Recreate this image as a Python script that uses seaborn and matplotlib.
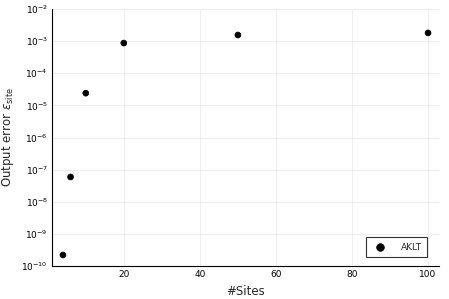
import matplotlib
matplotlib.use("Agg")
import matplotlib.pyplot as plt
import seaborn as sns
import pandas as pd
import numpy as np

sites = [4, 6, 10, 20, 50, 100]
errors = [2.2e-10, 5.9e-8, 2.4e-5, 8.7e-4, 1.55e-3, 1.8e-3]
series = ["AKLT"] * len(sites)
df = pd.DataFrame({"#Sites": sites, "err": errors, "series": series})

sns.set_style("white")
plt.rcParams['font.family'] = ['DejaVu Sans']
fig = plt.figure(figsize=(4.49, 2.99), dpi=100)
ax = fig.add_axes([52/449, 33/299, 387/449, 257/299])
sns.scatterplot(data=df, x="#Sites", y="err", hue="series", palette=["black"],
                s=18, edgecolor="black", linewidth=0.5, ax=ax, zorder=3)
ax.set_yscale("log")
ax.set_ylim(1e-10, 1e-2)
ax.set_xlim(1.12, 102.88)
ax.set_xticks([20, 40, 60, 80, 100])
ax.set_yticks([10.0**k for k in range(-10, -1)])
ax.yaxis.set_minor_locator(matplotlib.ticker.NullLocator())
ax.grid(True, color="#ebebeb", linewidth=0.6)
ax.set_axisbelow(True)
for s in ["top", "right"]:
    ax.spines[s].set_visible(False)
for s in ["left", "bottom"]:
    ax.spines[s].set_color("black")
    ax.spines[s].set_linewidth(0.8)
ax.tick_params(direction="in", length=3, width=0.6, labelsize=6.5, colors="black", pad=3)
ax.set_xlabel("#Sites", fontsize=8.5)
ax.set_ylabel(r"Output error $\varepsilon_{\rm site}$", fontsize=8.5)
leg = ax.legend(loc="lower right", frameon=True, fontsize=6.5, fancybox=False,
                edgecolor="black", borderpad=0.6, handletextpad=1.4, handlelength=1.8,
                markerscale=1.3, borderaxespad=0.0, bbox_to_anchor=(0.969, 0.034))
leg.get_frame().set_linewidth(0.8)
fig.savefig("out.png", dpi=100)
